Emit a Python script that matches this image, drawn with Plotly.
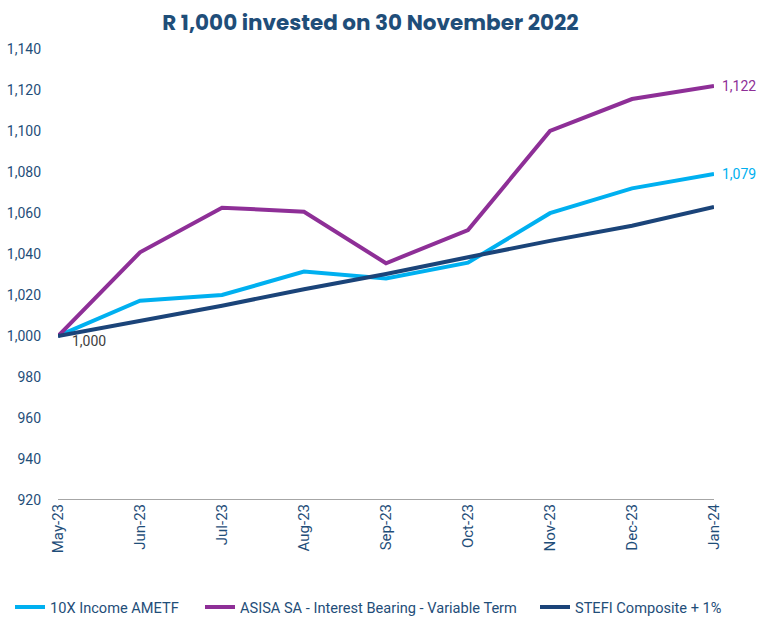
import plotly.graph_objects as go

months = ["May-23", "Jun-23", "Jul-23", "Aug-23", "Sep-23", "Oct-23", "Nov-23", "Dec-23", "Jan-24"]
income_ametf = [1000, 1017.2, 1020.0, 1031.4, 1028.1, 1035.8, 1059.9, 1072.0, 1079]
asisa_variable = [1000, 1040.8, 1062.6, 1060.6, 1035.5, 1051.7, 1100.0, 1115.6, 1122]
stefi_plus1 = [1000, 1007.2, 1014.8, 1022.8, 1030.2, 1038.4, 1046.4, 1053.8, 1063]
y_ticks = list(range(920, 1141, 20))

c_income = "#00B0F0"
c_asisa = "#8E2F97"
c_stefi = "#1B4479"
txt = "#1F4E79"

series = [
    ("10X Income AMETF", income_ametf, c_income, "legend", 10),
    ("ASISA SA - Interest Bearing - Variable Term", asisa_variable, c_asisa, "legend2", 200),
    ("STEFI Composite + 1%", stefi_plus1, c_stefi, "legend3", 535),
]

fig = go.Figure()
for name, vals, col, leg, _ in series:
    fig.add_trace(go.Scatter(x=months, y=vals, mode="lines", name=name, legend=leg,
                             line=dict(color=col, width=4)))

fig.add_annotation(x=months[0], y=stefi_plus1[0], text=f"{stefi_plus1[0]:,.0f}", showarrow=False,
                   xanchor="left", yanchor="top", xshift=12, yshift=5,
                   font=dict(color="#404040", size=14, family="Roboto"))
fig.add_annotation(x=months[-1], y=asisa_variable[-1], text=f"{asisa_variable[-1]:,.0f}", showarrow=False,
                   xanchor="left", xshift=6, font=dict(color=c_asisa, size=14, family="Roboto"))
fig.add_annotation(x=months[-1], y=income_ametf[-1], text=f"{income_ametf[-1]:,.0f}", showarrow=False,
                   xanchor="left", xshift=6, font=dict(color=c_income, size=14, family="Roboto"))

legend_layout = {}
for _, _, _, leg, px in series:
    legend_layout[leg] = dict(orientation="h", xref="container", yref="container",
                              x=px / 759, xanchor="left", y=0.016, yanchor="middle",
                              font=dict(size=14.6, color=txt, family="Roboto"),
                              itemwidth=30, bgcolor="rgba(0,0,0,0)")

fig.update_layout(
    width=759, height=617,
    margin=dict(l=58, r=45, t=49, b=117, autoexpand=False),
    paper_bgcolor="white", plot_bgcolor="white",
    title=dict(text="<b>R 1,000 invested on 30 November 2022</b>", x=0.488, xanchor="center",
               y=0.963, yanchor="middle",
               font=dict(family="Poppins, Inter, sans-serif", size=21.5, color="#1F4E79")),
    font=dict(family="Roboto", color=txt, size=13),
    showlegend=True,
    **legend_layout,
)
fig.update_xaxes(type="category", range=[0, 8], tickangle=-90, showgrid=False,
                 showline=False, ticks="", zeroline=False, automargin=False,
                 tickfont=dict(size=15, color=txt))
fig.update_yaxes(range=[920, 1140], tickvals=y_ticks, tickformat=",d", showgrid=False,
                 zeroline=False, showline=False, ticks="", ticklabelstandoff=16,
                 automargin=False, tickfont=dict(size=14, color=txt))
fig.add_hline(y=920, line=dict(color="#A6A6A6", width=2), layer="below")

fig.write_html("out.html")
